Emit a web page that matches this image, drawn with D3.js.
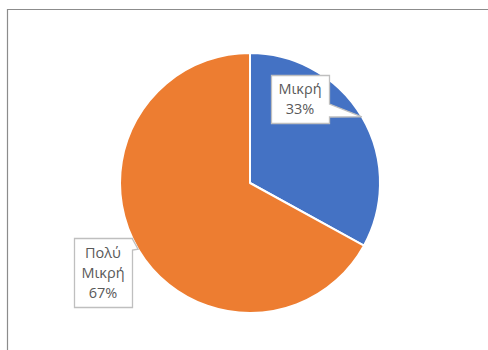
<!DOCTYPE html>
<html><head><meta charset="utf-8">
<script src="https://cdn.jsdelivr.net/npm/d3@7"></script>
<style>html,body{margin:0;padding:0;background:#fff;overflow:hidden}</style>
</head><body>
<svg id="c" width="488" height="350"></svg>
<script>
const categories = ["Μικρή", "Πολύ Μικρή"];
const labelLines = [["Μικρή"], ["Πολύ", "Μικρή"]];
const values = [33, 67];
const percentLabels = ["33%", "67%"];
const colors = ["#4472C4", "#ED7D31"];

const svg = d3.select("#c");
svg.append("rect").attr("x", 0).attr("y", 0).attr("width", 488).attr("height", 350).attr("fill", "#fff");
// outer frame
svg.append("path").attr("d", "M7.5,352 V9.5 H492").attr("fill", "none").attr("stroke", "#8c8c8c").attr("stroke-width", 1.2);

const cx = 250, cy = 183, r = 130;
const g = svg.append("g").attr("transform", `translate(${cx},${cy})`);
const pie = d3.pie().sort(null).value(d => d)(values);
const arc = d3.arc().innerRadius(0).outerRadius(r);
g.selectAll("path.s").data(pie).enter().append("path")
  .attr("class", "s").attr("d", arc)
  .attr("fill", (d, i) => colors[i])
  .attr("stroke", "#fff").attr("stroke-width", 2).attr("stroke-linejoin", "round");

// label boxes (layout)
const boxes = [
  {x: 271, y: 75, w: 58, h: 48, side: "right", b0: 104, b1: 117},
  {x: 74, y: 238, w: 58, h: 69, side: "right", b0: 239, b1: 250}
];
pie.forEach((d, i) => {
  const a = (d.startAngle + d.endAngle) / 2;
  const tx = cx + r * Math.sin(a), ty = cy - r * Math.cos(a);
  const b = boxes[i];
  const x0 = b.x + 0.5, y0 = b.y + 0.5, x1 = b.x + b.w + 0.5, y1 = b.y + b.h + 0.5;
  const p = `M${x0},${y0} H${x1} V${b.b0} L${tx},${ty} L${x1},${b.b1} V${y1} H${x0} Z`;
  svg.append("path").attr("d", p).attr("fill", "#fff").attr("stroke", "#bfbfbf").attr("stroke-width", 1.3);
  const lines = labelLines[i].concat([percentLabels[i]]);
  const lh = 20;
  const midY = b.y + b.h / 2;
  lines.forEach((t, j) => {
    svg.append("text").attr("x", b.x + b.w / 2).attr("y", midY + (j - (lines.length - 1) / 2) * lh)
      .attr("dy", "0.35em").attr("text-anchor", "middle")
      .attr("font-family", "'Open Sans', 'Noto Sans', sans-serif").attr("font-size", 14.5)
      .attr("fill", "#595959").text(t);
  });
});
</script>
</body></html>
